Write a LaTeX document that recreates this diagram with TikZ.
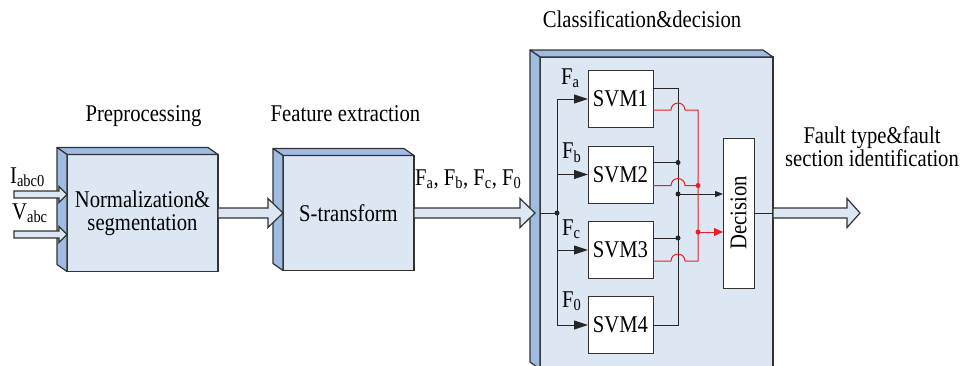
\documentclass[tikz,border=0pt]{standalone}
\usepackage{fontspec}
\setmainfont{Liberation Serif}[FakeStretch=0.86]
\usetikzlibrary{calc,arrows.meta,positioning}

\definecolor{front}{RGB}{221,231,243}
\definecolor{side}{RGB}{160,188,226}
\definecolor{edge}{RGB}{50,50,50}
\definecolor{wirered}{RGB}{232,32,38}

% top and left faces of a box
\newcommand{\sidefaces}[1]{%
  \filldraw[fill=side, draw=edge, line width=1.2pt, line join=round]
    (#1.north west) -- ++(-10,-7) -- ($(#1.north east)+(-10,-7)$) -- (#1.north east) -- cycle;
  \filldraw[fill=side, draw=edge, line width=1.2pt, line join=round]
    (#1.north west) -- ++(-10,-7) -- ($(#1.south west)+(-10,-7)$) -- (#1.south west) -- cycle;}

% hollow arrow: from, to, shaft half width, head half width, head length
\newcommand{\fatarrow}[5]{%
  \draw[fat] let \p1=(#1), \p2=(#2) in
    ({\x1},{\y1+#3}) -- ({\x2-#5},{\y1+#3}) -- ({\x2-#5},{\y1+#4}) -- ({\x2},{\y1})
    -- ({\x2-#5},{\y1-#4}) -- ({\x2-#5},{\y1-#3}) -- ({\x1},{\y1-#3}) -- cycle;}

\begin{document}
\begin{tikzpicture}[x=1pt, y=-1pt,
  every node/.style={font=\fontsize{24}{23}\selectfont},
  lbl/.style={inner sep=0pt},
  block/.style={draw=edge, fill=front, line width=1.2pt, inner sep=2pt, outer sep=0pt, align=center},
  svm/.style={draw=edge, fill=white, line width=1pt, inner sep=2pt, outer sep=0pt, minimum width=65, minimum height=57},
  fat/.style={draw=edge, fill=front, line width=1.2pt, line join=miter},
  wire/.style={draw=black!85, line width=1pt},
  redwire/.style={draw=wirered, line width=1pt},
  dot/.style={circle, fill=black!85, inner sep=0pt, minimum size=5pt},
  reddot/.style={dot, fill=wirered},
  intip/.style={-{Triangle[length=14pt, width=9pt]}},
  dectip/.style={-{Triangle[length=8pt, width=6pt]}},
  redtip/.style={-{Triangle[length=9pt, width=8pt]}}]
  \useasboundingbox (0,0) rectangle (965,365);

  \node[lbl, anchor=base] (pretitle) at (143.5,121) {Preprocessing};
  \node[lbl, anchor=base] (feattitle) at (345.5,121) {Feature extraction};
  \node[lbl, anchor=base] (clstitle) at (642,27) {Classification\&decision};

  \node[block, minimum width=151, minimum height=117] (norm) at (142.5,213) {Normalization\&\\segmentation};
  \sidefaces{norm}
  \node[block, minimum width=131, minimum height=115] (stran) at (348.5,213) {S-transform};
  \sidefaces{stran}
  \node[block, minimum width=233, minimum height=312] (cls) at (656.5,213) {};
  \sidefaces{cls}

  % inputs
  \node[lbl, anchor=base west] (ilab) at (10,183) {I\textsubscript{abc0}};
  \node[lbl, anchor=base west] (vlab) at (12,219) {V\textsubscript{abc}};
  \coordinate (iin) at (14,194.5);
  \coordinate (vin) at (14,234.5);
  \fatarrow{iin}{norm.west |- iin}{3.5}{8}{8}
  \fatarrow{vin}{norm.west |- vin}{3.5}{8}{8}

  \fatarrow{norm.east}{stran.west}{5}{14.5}{15}
  \coordinate (clsin) at ($(cls.west)+(-5,0)$);
  \fatarrow{stran.east}{clsin}{5}{14.5}{15}
  \node[lbl, anchor=base west] (flist) at (415,185) {F\textsubscript{a}, F\textsubscript{b}, F\textsubscript{c}, F\textsubscript{0}};

  \coordinate (out) at (860,213);
  \fatarrow{cls.east}{out}{5}{14.5}{13}
  \node[lbl, anchor=base, align=center] (outlab) at (872,166) {Fault type\&fault\\section identification};

  % classifiers
  \node[svm] (svm1) at (620.5,99) {SVM1};
  \node[svm] (svm2) at (620.5,174.5) {SVM2};
  \node[svm] (svm3) at (620.5,250) {SVM3};
  \node[svm] (svm4) at (620.5,325) {SVM4};
  \node[svm, minimum width=31, minimum height=150] (dec) at (738.5,213) {\rotatebox{90}{Decision}};
  \draw[wire] (dec.east) -- (cls.east);

  \coordinate (bus) at (557,213);
  \draw[wire] (cls.west) -- (bus);
  \foreach \s in {1,...,4}
    \draw[wire, intip] (bus) |- (svm\s.west);
  \node[dot] at (bus) {};
  \node[lbl, anchor=base west] (fa) at ($(svm1.west)+(-27,-15)$) {F\textsubscript{a}};
  \node[lbl, anchor=base west] (fb) at ($(svm2.west)+(-26,-16)$) {F\textsubscript{b}};
  \node[lbl, anchor=base west] (fc) at ($(svm3.west)+(-26,-15)$) {F\textsubscript{c}};
  \node[lbl, anchor=base west] (f0) at ($(svm4.west)+(-26,-18)$) {F\textsubscript{0}};

  % black outputs
  \coordinate (bv) at (678,325);
  \draw[wire] ($(svm1.east)+(0,-11)$) -| (bv) -- (svm4.east);
  \coordinate (b2) at ($(svm2.east)+(0,-12)$);
  \coordinate (b3) at ($(svm3.east)+(0,-12)$);
  \draw[wire] (b2) -- (b2 -| bv) node[dot] {};
  \draw[wire] (b3) -- (b3 -| bv) node[dot] {};
  \coordinate (bj) at (678,194);
  \draw[wire, dectip] (bj) -- (bj -| dec.west);
  \node[dot] at (bj) {};

  % red outputs
  \coordinate (rv) at (698,0);
  \coordinate (r1) at ($(svm1.east)+(0,11)$);
  \coordinate (r2) at ($(svm2.east)+(0,11)$);
  \coordinate (r3) at ($(svm3.east)+(0,11)$);
  \draw[redwire] (r1) -- ($(r1 -| bv)+(-7,0)$) arc[start angle=180, end angle=360, radius=7] -| (r3 -| rv);
  \draw[redwire] (r3) -- ($(r3 -| bv)+(-7,0)$) arc[start angle=180, end angle=360, radius=7] -- (r3 -| rv);
  \draw[redwire] (r2) -- ($(r2 -| bv)+(-7,0)$) arc[start angle=180, end angle=360, radius=7] -- (r2 -| rv) node[reddot] {};
  \coordinate (rj) at (698,232);
  \draw[redwire, redtip] (rj) -- (rj -| dec.west);
  \node[reddot] at (rj) {};
\end{tikzpicture}
\end{document}
